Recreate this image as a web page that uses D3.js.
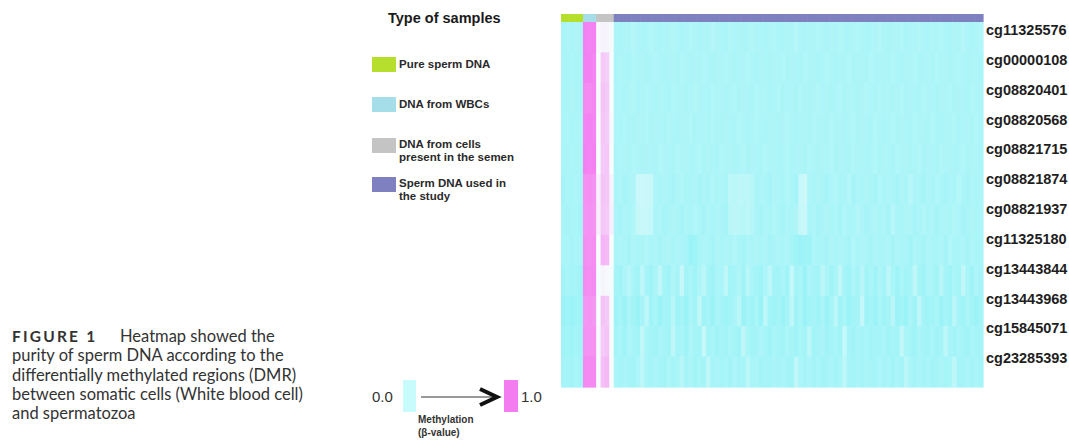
<!DOCTYPE html>
<html><head><meta charset="utf-8">
<script src="https://cdn.jsdelivr.net/npm/d3@7"></script>
<style>body{margin:0;background:#fff}svg{display:block}</style>
</head><body>
<svg id="c" width="1069" height="445"></svg>
<script>
// ---------------- DATA ----------------
const probes = ["cg11325576","cg00000108","cg08820401","cg08820568","cg08821715","cg08821874",
  "cg08821937","cg11325180","cg13443844","cg13443968","cg15845071","cg23285393"];
const sampleTypes = ["Pure sperm DNA","DNA from WBCs","DNA from cells present in the semen","Sperm DNA used in the study"];
const typeColors = ["#b5df2c","#a5dde8","#c4c4c4","#7f80c0"];
const legendColorLabels = [["Pure sperm DNA"],["DNA from WBCs"],["DNA from cells","present in the semen"],["Sperm DNA used in","the study"]];
const scaleTicks = ["0.0","1.0"];
const captionLines = ["Heatmap showed the","purity of sperm DNA according to the","differentially methylated regions (DMR)","between somatic cells (White blood cell)","and spermatozoa"];

// methylation beta-values (x100), one row per probe
const pureSperm = [
 [12,14,13,15,13],[13,12,14,13,12],[12,13,15,12,13],[13,14,12,13,14],[12,13,14,12,13],[11,13,12,14,12],
 [12,11,13,12,11],[12,13,11,12,13],[9,12,10,11,8],[6,8,5,7,8],[8,9,7,10,9],[10,11,9,12,10]];
const wbc = [
 [98,97,98],[98,98,97],[95,94,96],[97,98,97],[98,97,98],[92,93,92],
 [91,92,91],[93,92,93],[94,93,94],[90,91,90],[92,91,92],[95,94,95]];
const semenCells = [
 [52,54,53,51],[50,70,68,50],[51,72,70,50],[50,71,69,51],[50,70,71,50],[55,72,71,54],
 [56,71,70,55],[50,78,76,50],[48,53,52,48],[50,72,70,50],[51,70,72,50],[50,74,76,50]];
const studySperm = [
 [14,13,15,14,18,14,13,14,16,15,13,14, 15,17,14,13,14,16,14,13,15,14,18,15, 14,13,16,14,15,13,14,17,15,14,13,15, 16,14,13,15,14,18,14,13,15,14,16,14, 13,15,14,17,14,13,15,16,14,13,14,15, 18,14,13,15,14,16,13,14,15,17,14,13, 15,14,16,14,13,15,14,18,14,13,15,16],
 [13,15,14,13,16,14,15,13,14,16,14,13, 14,15,13,16,14,13,15,14,16,14,13,15, 14,16,15,13,14,15,16,14,13,15,14,13, 15,14,16,13,15,14,13,16,14,15,13,14, 16,14,13,15,14,16,13,15,14,13,16,14, 14,15,13,16,14,13,15,14,16,13,14,15, 13,16,14,15,13,14,16,14,13,15,14,13],
 [15,14,13,15,17,13,14,16,14,13,15,14, 13,16,14,15,13,14,17,15,14,13,16,14, 15,13,14,16,13,15,14,13,16,14,15,13, 14,16,13,14,15,13,16,14,13,15,17,14, 15,13,14,16,13,15,14,13,15,16,14,13, 16,14,15,13,14,16,13,15,14,13,16,15, 14,13,15,14,16,13,15,14,13,16,14,15],
 [14,13,16,14,13,15,14,16,13,15,14,13, 16,14,13,15,14,16,13,14,15,13,16,14, 13,15,14,13,16,15,13,14,16,14,13,15, 14,13,15,16,14,13,15,14,13,16,14,15, 13,16,14,15,13,14,16,13,15,14,13,16, 15,13,14,16,13,15,14,13,16,14,15,13, 16,14,13,15,14,16,13,14,15,13,16,14],
 [13,14,15,13,16,14,13,15,14,13,16,15, 14,13,16,14,15,13,14,16,13,15,14,13, 16,14,15,13,14,16,13,15,14,13,16,14, 15,13,14,16,13,14,15,13,16,14,13,15, 14,16,13,15,14,13,16,14,15,13,14,16, 13,15,14,13,16,14,15,13,14,16,13,15, 14,13,16,14,15,13,14,16,13,15,14,13],
 [12,14,11,13,15,27,29,28,26,14,12,15, 13,11,14,16,12,13,15,11,14,12,16,13, 15,12,22,20,23,21,22,19,12,14,13,11, 15,14,12,16,13,11,27,29,14,12,15,13, 11,14,16,12,13,18,11,14,12,15,13,11, 16,12,14,13,11,15,12,20,14,13,11,15, 12,16,13,11,14,12,18,13,11,14,12,15],
 [13,11,14,12,16,26,28,27,25,13,14,11, 12,15,13,11,14,12,16,13,11,15,12,14, 13,11,20,22,21,19,22,18,13,11,14,12, 16,13,11,14,12,15,26,28,12,14,11,13, 15,12,14,11,16,13,12,18,14,11,13,15, 12,14,11,19,13,12,15,14,11,13,16,12, 14,11,13,15,12,17,14,11,13,15,12,14],
 [12,14,13,11,15,12,13,16,12,14,11,13, 15,12,14,13,11,6,7,12,14,13,11,15, 12,14,13,16,12,11,14,13,15,12,14,11, 13,15,12,14,11,7,6,8,7,14,12,13, 11,15,12,14,13,11,16,12,14,13,11,15, 12,13,14,11,15,12,13,9,14,12,11,15, 13,12,14,11,16,12,13,14,11,15,12,13],
 [10,8,14,20,12,9,22,11,7,13,24,10, 8,15,11,26,9,12,7,14,21,10,8,13, 12,23,9,11,15,8,20,12,10,7,14,22, 11,9,13,8,25,10,12,6,14,11,9,21, 13,8,12,24,10,7,14,11,20,9,12,8, 15,10,22,12,7,13,9,11,23,10,8,14, 12,9,20,11,7,13,10,24,12,8,14,11],
 [8,10,6,13,9,5,11,22,8,12,6,10, 9,20,7,11,5,13,9,24,8,10,6,12, 11,7,9,13,21,6,10,8,12,5,22,9, 7,11,6,10,23,8,12,5,9,11,7,13, 6,10,21,8,12,5,9,11,25,7,10,6, 12,8,11,20,6,9,5,13,8,22,10,7, 9,12,6,10,8,21,11,7,13,9,6,10],
 [10,12,8,14,11,9,24,12,10,8,13,11, 9,22,10,12,8,14,11,9,26,10,12,8, 11,9,13,10,8,23,12,9,11,14,10,8, 12,10,9,13,11,8,12,10,22,9,11,13, 8,10,12,9,25,11,8,13,10,12,9,11, 10,13,8,11,9,24,12,10,8,13,11,9, 12,8,10,22,11,9,13,10,8,12,10,11],
 [12,10,13,11,9,14,22,12,10,13,11,9, 14,10,12,20,11,13,9,12,10,23,11,13, 10,12,9,14,11,10,21,12,13,9,11,10, 13,11,12,10,9,24,12,11,13,10,12,9, 11,13,10,12,22,11,9,13,10,12,11,10, 14,11,12,9,13,10,21,12,11,13,10,12, 9,11,13,10,12,22,11,10,13,11,12,10]];

// ---------------- BUILD ----------------
const groups = [pureSperm, wbc, semenCells, studySperm];
const columns = [];
groups.forEach((g, gi) => g[0].forEach(() => columns.push({idx: columns.length, type: gi})));
const cells = [];
probes.forEach((p, ri) => {
  let ci = 0;
  groups.forEach(g => g[ri].forEach(v => { cells.push({probe: p, col: ci, v: v / 100}); ci++; }));
});

const svg = d3.select("#c");
const x = d3.scaleBand().domain(columns.map(c => c.idx)).range([561, 983]);
const y = d3.scaleBand().domain(probes).range([22, 387]);
const color = d3.scaleLinear().domain([0, 0.5, 1]).range(["#90f2f6", "#f7fdfd", "#f37cf0"]).interpolate(d3.interpolateRgb);

svg.append("g").selectAll("rect").data(cells).join("rect")
  .attr("x", d => x(d.col)).attr("y", d => y(d.probe))
  .attr("width", x.bandwidth() + 0.6).attr("height", y.bandwidth() + 0.6)
  .attr("fill", d => color(d.v));

svg.append("g").selectAll("rect").data(columns).join("rect")
  .attr("x", d => x(d.idx)).attr("y", 14).attr("width", x.bandwidth() + 0.6).attr("height", 8)
  .attr("fill", d => typeColors[d.type]);

const lf = "Liberation Sans, Arial, sans-serif";
const ly = d3.scalePoint().domain(probes).range([30, 358]);
svg.append("g").selectAll("text").data(probes).join("text")
  .attr("x", 986).attr("y", d => ly(d)).attr("dy", "0.36em")
  .attr("font-family", lf).attr("font-weight", "bold")
  .attr("font-size", 14.5).attr("fill", "#1e1e1e").text(d => d);

svg.append("text").attr("x", 388).attr("y", 23).attr("font-family", lf).attr("font-weight", "bold")
  .attr("font-size", 14.5).attr("fill", "#1a1a1a").text("Type of samples");
const legY = [57, 97, 138, 177];
const lg = svg.append("g").selectAll("g").data(sampleTypes).join("g")
  .attr("transform", (d, i) => `translate(372,${legY[i]})`);
lg.append("rect").attr("width", 24).attr("height", 15).attr("fill", (d, i) => typeColors[i]);
lg.each(function(d, i) {
  const g = d3.select(this);
  legendColorLabels[i].forEach((t, j) => {
    g.append("text").attr("x", 27).attr("y", (legendColorLabels[i].length === 1 ? 11 : 10) + j * 13)
      .attr("font-family", lf).attr("font-weight", "bold").attr("font-size", 11.5).attr("fill", "#2a2a2a").text(t);
  });
});

const key = svg.append("g");
key.append("rect").attr("x", 403).attr("y", 380).attr("width", 13).attr("height", 32).attr("fill", "#c8fbfb");
key.append("rect").attr("x", 504).attr("y", 380).attr("width", 14).attr("height", 32).attr("fill", color(1));
key.append("text").attr("x", 372).attr("y", 402).attr("font-family", lf).attr("font-size", 15).attr("fill", "#333").text(scaleTicks[0]);
key.append("text").attr("x", 521).attr("y", 402).attr("font-family", lf).attr("font-size", 15).attr("fill", "#333").text(scaleTicks[1]);
key.append("line").attr("x1", 421).attr("x2", 494).attr("y1", 397).attr("y2", 397).attr("stroke", "#333").attr("stroke-width", 1);
key.append("path").attr("d", "M480,389 L497,397 L480,405").attr("fill", "none").attr("stroke", "#111").attr("stroke-width", 4).attr("stroke-linejoin", "miter");
key.append("text").attr("x", 418).attr("y", 423).attr("font-family", lf).attr("font-weight", "bold").attr("font-size", 10).attr("fill", "#333").text("Methylation");
key.append("text").attr("x", 418).attr("y", 436).attr("font-family", lf).attr("font-weight", "bold").attr("font-size", 10).attr("fill", "#333").text("(β-value)");

const cf = "Lato, 'Open Sans', sans-serif";
svg.append("text").attr("x", 12).attr("y", 342).attr("font-family", cf).attr("font-weight", "bold")
  .attr("font-size", 15.5).attr("letter-spacing", 2.2).attr("fill", "#333").text("FIGURE 1");
captionLines.forEach((t, i) => {
  svg.append("text").attr("x", i === 0 ? 120 : 12).attr("y", 342 + i * 19.3)
    .attr("font-family", cf).attr("font-size", 16.5).attr("fill", "#333").text(t);
});
</script>
</body></html>
